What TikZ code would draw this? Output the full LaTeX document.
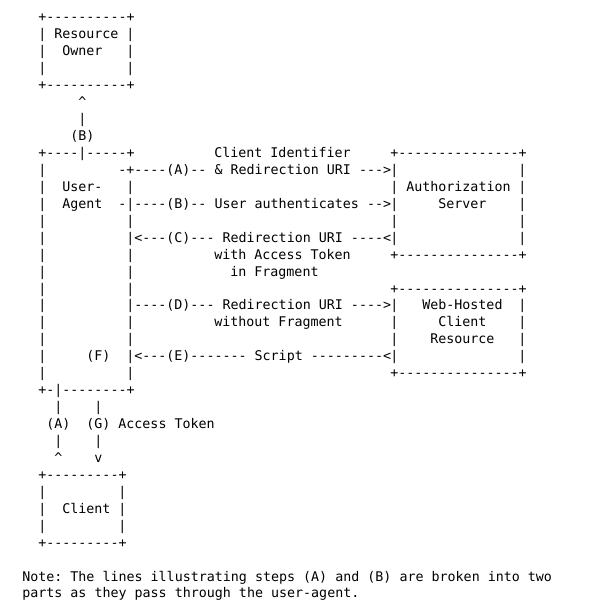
\documentclass[tikz,border=0pt]{standalone}
\usepackage{fontspec}
\setmonofont{DejaVu Sans Mono}
\tikzset{
  ascii/.style={anchor=base west,inner sep=0pt,font=\ttfamily\fontsize{10pt}{12pt}\selectfont}
}
\begin{document}
\begin{tikzpicture}[x=6pt,y=-12.705pt]
            \useasboundingbox (-16.5pt,16.5pt) rectangle (444.75pt,-441pt);
            % resource owner
            \node[ascii] (owner-top) at (2,0) {+----------+};
            \node[ascii] (owner-bot) at (2,4) {+----------+};
            \foreach \r in {1,2,3} {
              \node[ascii] (owner-l\r) at (2,\r) {|};
              \node[ascii] (owner-r\r) at (13,\r) {|};
            }
            \node[ascii] (owner-t1) at (4,1) {Resource};
            \node[ascii] (owner-t2) at (5,2) {Owner};
            \node[ascii] (b-tip) at (7,5) {\textasciicircum};
            \node[ascii] (b-bar) at (7,6) {|};
            \node[ascii] (b-lab) at (6,7) {(B)};
            % user-agent
            \node[ascii] (agent-top) at (2,8) {+----|-----+};
            \node[ascii] (agent-bot) at (2,22) {+-|--------+};
            \foreach \r in {9,...,21} {
              \node[ascii] (agent-l\r) at (2,\r) {|};
            }
            \foreach \r in {10,...,21} {
              \node[ascii] (agent-r\r) at (13,\r) {|};
            }
            \node[ascii] (agent-a) at (12,9) {-+};
            \node[ascii] (agent-b) at (12,11) {-};
            \node[ascii] (agent-t1) at (5,10) {User-};
            \node[ascii] (agent-t2) at (5,11) {Agent};
            \node[ascii] (f-lab) at (8,20) {(F)};
            % authorization server
            \node[ascii] (auth-top) at (46,8) {+---------------+};
            \node[ascii] (auth-bot) at (46,14) {+---------------+};
            \foreach \r in {9,...,13} {
              \node[ascii] (auth-l\r) at (46,\r) {|};
              \node[ascii] (auth-r\r) at (62,\r) {|};
            }
            \node[ascii] (auth-t1) at (48,10) {Authorization};
            \node[ascii] (auth-t2) at (52,11) {Server};
            % web-hosted client resource
            \node[ascii] (web-top) at (46,16) {+---------------+};
            \node[ascii] (web-bot) at (46,21) {+---------------+};
            \foreach \r in {17,...,20} {
              \node[ascii] (web-l\r) at (46,\r) {|};
              \node[ascii] (web-r\r) at (62,\r) {|};
            }
            \node[ascii] (web-t1) at (50,17) {Web-Hosted};
            \node[ascii] (web-t2) at (52,18) {Client};
            \node[ascii] (web-t3) at (51,19) {Resource};
            % flows
            \node[ascii] (a-top) at (24,8) {Client Identifier};
            \node[ascii] (a-arr) at (14,9) {----(A)-- \& Redirection URI --->};
            \node[ascii] (b-arr) at (14,11) {----(B)-- User authenticates -->};
            \node[ascii] (c-arr) at (14,13) {<---(C)--- Redirection URI ----<};
            \node[ascii] (c-t1) at (24,14) {with Access Token};
            \node[ascii] (c-t2) at (26,15) {in Fragment};
            \node[ascii] (d-arr) at (14,17) {----(D)--- Redirection URI ---->};
            \node[ascii] (d-t1) at (24,18) {without Fragment};
            \node[ascii] (e-arr) at (14,20) {<---(E)------- Script ---------<};
            % client links
            \foreach \r in {23,25} {
              \node[ascii] (ag-l\r) at (4,\r) {|};
              \node[ascii] (ag-r\r) at (9,\r) {|};
            }
            \node[ascii] (a-lab) at (3,24) {(A)};
            \node[ascii] (g-lab) at (8,24) {(G) Access Token};
            \node[ascii] (a-tip) at (4,26) {\textasciicircum};
            \node[ascii] (g-tip) at (9,26) {v};
            % client
            \node[ascii] (client-top) at (2,27) {+---------+};
            \node[ascii] (client-bot) at (2,31) {+---------+};
            \foreach \r in {28,29,30} {
              \node[ascii] (client-l\r) at (2,\r) {|};
              \node[ascii] (client-r\r) at (12,\r) {|};
            }
            \node[ascii] (client-t) at (5,29) {Client};
            % note
            \node[ascii] (note-1) at (0,33) {Note: The lines illustrating steps (A) and (B) are broken into two};
            \node[ascii] (note-2) at (0,34) {parts as they pass through the user-agent.};
        \end{tikzpicture}
\end{document}
